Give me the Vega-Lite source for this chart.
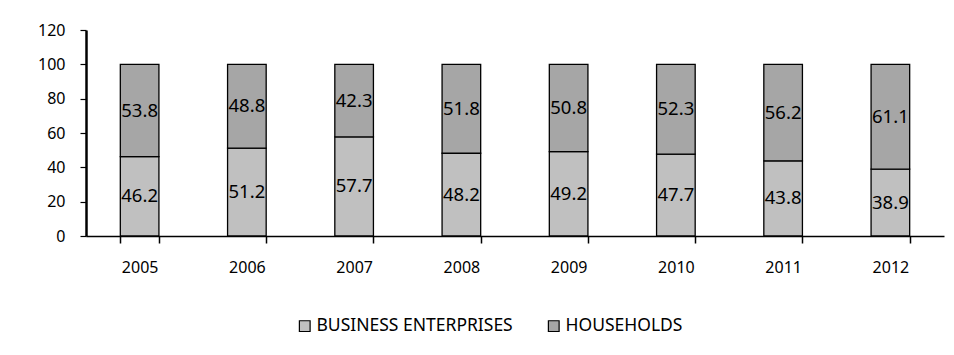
{
  "$schema": "https://vega.github.io/schema/vega-lite/v6.json",
  "width": 858,
  "height": 206,
  "autosize": {"type": "none"},
  "padding": {"left": 86, "top": 30, "right": 10, "bottom": 119},
  "background": "white",
  "data": {
    "values": [
      {"year": "2005", "sector": "BUSINESS ENTERPRISES", "value": 46.2, "order": 1},
      {"year": "2005", "sector": "HOUSEHOLDS", "value": 53.8, "order": 2},
      {"year": "2006", "sector": "BUSINESS ENTERPRISES", "value": 51.2, "order": 1},
      {"year": "2006", "sector": "HOUSEHOLDS", "value": 48.8, "order": 2},
      {"year": "2007", "sector": "BUSINESS ENTERPRISES", "value": 57.7, "order": 1},
      {"year": "2007", "sector": "HOUSEHOLDS", "value": 42.3, "order": 2},
      {"year": "2008", "sector": "BUSINESS ENTERPRISES", "value": 48.2, "order": 1},
      {"year": "2008", "sector": "HOUSEHOLDS", "value": 51.8, "order": 2},
      {"year": "2009", "sector": "BUSINESS ENTERPRISES", "value": 49.2, "order": 1},
      {"year": "2009", "sector": "HOUSEHOLDS", "value": 50.8, "order": 2},
      {"year": "2010", "sector": "BUSINESS ENTERPRISES", "value": 47.7, "order": 1},
      {"year": "2010", "sector": "HOUSEHOLDS", "value": 52.3, "order": 2},
      {"year": "2011", "sector": "BUSINESS ENTERPRISES", "value": 43.8, "order": 1},
      {"year": "2011", "sector": "HOUSEHOLDS", "value": 56.2, "order": 2},
      {"year": "2012", "sector": "BUSINESS ENTERPRISES", "value": 38.9, "order": 1},
      {"year": "2012", "sector": "HOUSEHOLDS", "value": 61.1, "order": 2}
    ]
  },
  "transform": [
    {"stack": "value", "groupby": ["year"], "sort": [{"field": "order"}], "as": ["y0", "y1"]},
    {"calculate": "(datum.y0 + datum.y1) / 2", "as": "ymid"}
  ],
  "config": {
    "view": {"stroke": null},
    "font": "Noto Sans",
    "axis": {"grid": false, "domainColor": "black", "tickColor": "black", "labelColor": "black", "labelFont": "Noto Sans", "labelFontSize": 16},
    "axisX": {"labelAngle": 0, "labelPadding": 16, "tickSize": 7, "tickBand": "extent", "domainWidth": 1.5, "tickWidth": 1.5},
    "axisY": {"labelOverlap": false, "labelPadding": 15, "tickSize": 6, "domainWidth": 2.5, "tickWidth": 1.2}
  },
  "encoding": {
    "x": {
      "field": "year", "type": "ordinal", "title": null,
      "scale": {"paddingInner": 0.64, "paddingOuter": 0.32}
    }
  },
  "layer": [
    {
      "mark": {"type": "bar", "stroke": "black", "strokeWidth": 1.3},
      "encoding": {
        "y": {
          "field": "y0", "type": "quantitative", "title": null,
          "scale": {"domain": [0, 120]},
          "axis": {"values": [0, 20, 40, 60, 80, 100, 120]}
        },
        "y2": {"field": "y1"},
        "fill": {
          "field": "sector", "type": "nominal",
          "scale": {"domain": ["BUSINESS ENTERPRISES", "HOUSEHOLDS"], "range": ["#c0c0c0", "#a6a6a6"]},
          "legend": {
            "title": null, "orient": "none", "direction": "horizontal",
            "legendX": 210, "legendY": 287,
            "symbolType": "square", "symbolSize": 115, "symbolStrokeColor": "black", "symbolStrokeWidth": 1.2,
            "labelFontSize": 17.5, "labelFont": "Noto Sans", "labelColor": "black", "labelLimit": 400, "columnPadding": 32, "labelOffset": 3
          }
        }
      }
    },
    {
      "mark": {"type": "text", "fontSize": 18.5, "color": "black", "font": "Noto Sans"},
      "encoding": {
        "y": {
          "field": "ymid", "type": "quantitative", "title": null,
          "scale": {"domain": [0, 120]},
          "axis": {"values": [0, 20, 40, 60, 80, 100, 120]}
        },
        "text": {"field": "value", "type": "quantitative", "format": ".1f"}
      }
    }
  ]
}
